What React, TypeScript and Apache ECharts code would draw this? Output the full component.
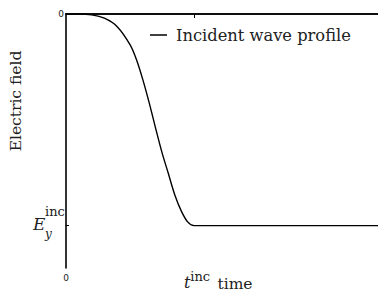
import React, { useEffect, useRef } from "react";
import * as echarts from "echarts";

const timeValues = [0, 0.1, 0.2, 0.3, 0.4, 0.5, 0.55, 0.6, 0.65, 0.7, 0.75, 0.8, 0.85, 0.9, 0.95, 1.0, 1.5, 2.64];
const fieldValues = [0, 0, -0.004, -0.02, -0.06, -0.145, -0.215, -0.31, -0.42, -0.54, -0.655, -0.755, -0.855, -0.93, -0.982, -1, -1, -1];
const xTickValues = [0, 1];
const yTickValues = [0];
const seriesName = "Incident wave profile";

const SERIF = "'DejaVu Serif', serif";
const SANS = "'DejaVu Sans', sans-serif";

export default function App() {
  const ref = useRef<HTMLDivElement>(null);
  useEffect(() => {
    if (!ref.current) return;
    const chart = echarts.init(ref.current, undefined, { renderer: "svg" });
    const data = timeValues.map((t, i) => [t, fieldValues[i]]);
    chart.setOption({
      animation: false,
      backgroundColor: "#fff",
      grid: { left: 66, top: 14, right: -26, bottom: 25, outerBoundsMode: "none", containLabel: false },
      legend: {
        left: 145,
        top: 22,
        icon: "rect",
        itemWidth: 17,
        itemHeight: 1.5,
        itemGap: 8,
        textStyle: { fontFamily: SERIF, fontSize: 16.3, color: "#222", padding: [0, 0, 0, 4] },
        data: [seriesName],
      },
      xAxis: [
        {
          type: "value",
          position: "bottom",
          min: 0,
          max: 2.64,
          name: "time",
          nameLocation: "middle",
          nameGap: 9,
          nameMoveOverlap: false,
          nameTextStyle: { fontFamily: SERIF, fontSize: 15.5, color: "#222", lineHeight: 14, verticalAlign: "top" },
          axisLine: { lineStyle: { color: "#000", width: 1.6 } },
          axisTick: { show: false },
          splitLine: { show: false },
          axisLabel: {
            customValues: xTickValues,
            margin: 2,
            formatter: (v: number) => (v === 0 ? "{z|0}" : "{t|t}{sup|inc}"),
            rich: {
              z: { fontFamily: SANS, fontSize: 9, color: "#222", padding: [3, 0, 0, 0] },
              t: { fontFamily: SERIF, fontStyle: "italic", fontSize: 16, color: "#222", padding: [4, 0, 0, 6] },
              sup: { fontFamily: SERIF, fontSize: 13, color: "#222", padding: [0, 0, 8, 0] },
            },
          },
        },
        {
          type: "value",
          position: "top",
          min: 0,
          max: 2.64,
          axisLine: { lineStyle: { color: "#000", width: 1.6 } },
          axisTick: { show: true, inside: true, length: 4, customValues: [1], lineStyle: { color: "#000" } },
          axisLabel: { show: false },
          splitLine: { show: false },
        },
      ],
      yAxis: {
        type: "value",
        min: -1.2,
        max: 0,
        name: "Electric field",
        nameLocation: "middle",
        nameGap: 42,
        nameMoveOverlap: false,
        nameTextStyle: { fontFamily: SERIF, fontSize: 15.5, color: "#222", padding: [0, 0, 0, 80] },
        axisLine: { lineStyle: { color: "#000", width: 1.6 } },
        axisTick: { show: true, inside: true, length: 3, customValues: [-1], lineStyle: { color: "#000" } },
        splitLine: { show: false },
        axisLabel: {
          customValues: yTickValues,
          margin: 2,
          fontFamily: SANS,
          fontSize: 9,
          color: "#222",
        },
      },
      series: [
        {
          name: seriesName,
          type: "line",
          data,
          smooth: 0.3,
          showSymbol: false,
          symbol: "none",
          lineStyle: { color: "#000", width: 1.4 },
          itemStyle: { color: "#000" },
        },
      ],
    });
    const p = chart.convertToPixel({ yAxisIndex: 0 }, -1) as number;
    chart.setOption({
      graphic: [
        { type: "text", left: 33, top: p - 10, style: { text: "E", font: `italic 17px ${SERIF}`, fill: "#222" } },
        { type: "text", left: 45, top: p + 2, style: { text: "y", font: `italic 12px ${SERIF}`, fill: "#222" } },
        { type: "text", left: 45, top: p - 21, style: { text: "inc", font: `13px ${SERIF}`, fill: "#222" } },
      ],
    });
    return () => chart.dispose();
  }, []);
  return (
    <div
      ref={ref}
      style={{ position: "fixed", left: 0, top: 0, width: 378, height: 293, background: "#fff" }}
    />
  );
}
